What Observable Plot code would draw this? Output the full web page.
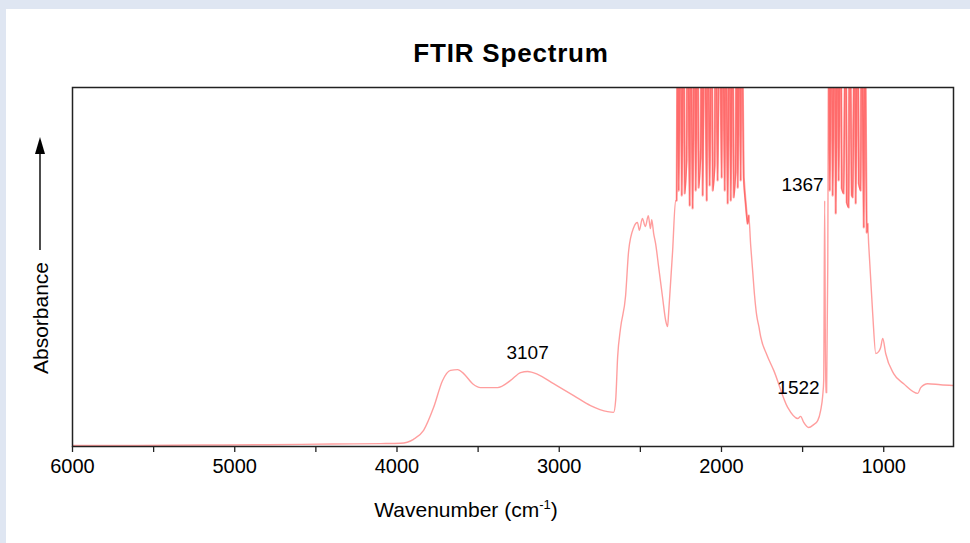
<!DOCTYPE html>
<html>
<head>
<meta charset="utf-8">
<script src="https://cdn.jsdelivr.net/npm/d3@7"></script>
<script src="https://cdn.jsdelivr.net/npm/@observablehq/plot@0.6"></script>
<style>
  html, body { margin: 0; padding: 0; }
  body { width: 970px; height: 543px; background: #dfe6f2; position: relative; overflow: hidden;
         font-family: "Liberation Sans", Arial, Helvetica, sans-serif; color: #000; }
  #panel { position: absolute; left: 6px; top: 9px; right: 0; bottom: 0; background: #fff; }
  #title { position: absolute; left: 311px; width: 400px; top: 40px; height: 26px; line-height: 26px;
           text-align: center; font-size: 26px; font-weight: bold; letter-spacing: 0.8px; }
  #chart { position: absolute; left: 0; top: 0; }
  #xlabel { position: absolute; left: 266px; width: 400px; top: 499px; line-height: 21px; font-size: 21px; text-align: center; }
  #xlabel sup { font-size: 13px; vertical-align: 8px; line-height: 0; }
  #ylabel { position: absolute; left: 40px; top: 318px; font-size: 21px; line-height: 21px; white-space: nowrap;
            transform: translate(-50%, -50%) rotate(-90deg); }
  #arrow { position: absolute; left: 30px; top: 130px; }
</style>
</head>
<body>
<div id="panel"></div>
<div id="title">FTIR Spectrum</div>
<div id="chart"></div>
<div id="xlabel">Wavenumber (cm<sup>-1</sup>)</div>
<div id="ylabel">Absorbance</div>
<svg id="arrow" width="20" height="125">
  <line x1="10" y1="120" x2="10" y2="20" stroke="#000" stroke-width="1.4"/>
  <polygon points="10,7 5,24 15,24" fill="#000"/>
</svg>
<script>
// Wavenumber (cm^-1)
const wavenumber = [
  6000, 5600, 5200, 4800, 4400, 4100, 3978, 3898, 3836, 3774, 3719, 3670, 3626, 3589, 3534, 3485,
  3380, 3300, 3238, 3195, 3133, 3035, 2911, 2807, 2702, 2665, 2652, 2640, 2622, 2591, 2572, 2541,
  2518, 2506, 2488, 2469, 2451, 2438, 2430, 2418, 2406, 2387, 2363, 2344, 2332, 2326, 2301, 2283,
  2276, 2270, 2264, 2252, 2245, 2233, 2227, 2215, 2209, 2196, 2190, 2178, 2165, 2159, 2147, 2141,
  2128, 2122, 2116, 2104, 2091, 2085, 2073, 2061, 2054, 2042, 2036, 2024, 2011, 1999, 1993, 1980,
  1974, 1962, 1950, 1943, 1931, 1925, 1913, 1906, 1900, 1888, 1882, 1876, 1863, 1851, 1839, 1832,
  1820, 1808, 1796, 1783, 1770, 1758, 1720, 1678, 1592, 1530, 1512, 1493, 1463, 1432, 1407, 1389,
  1376, 1370, 1364, 1358, 1352, 1345, 1339, 1333, 1321, 1315, 1302, 1296, 1284, 1278, 1265, 1259,
  1247, 1234, 1228, 1216, 1210, 1197, 1191, 1179, 1173, 1160, 1154, 1142, 1136, 1123, 1117, 1105,
  1099, 1093, 1068, 1049, 1030, 1019, 1006, 988, 939, 877, 790, 772, 729, 650, 570
];
// Absorbance (arbitrary units, 0 = bottom of frame, 1 = top of frame)
const absorbance = [
  0.003, 0.003, 0.004, 0.005, 0.007, 0.008, 0.009, 0.020, 0.045, 0.109, 0.184, 0.212, 0.214, 0.203, 0.175, 0.164,
  0.164, 0.184, 0.206, 0.209, 0.201, 0.175, 0.142, 0.114, 0.097, 0.095, 0.130, 0.250, 0.330, 0.420, 0.546, 0.610,
  0.624, 0.602, 0.635, 0.613, 0.643, 0.607, 0.632, 0.593, 0.565, 0.499, 0.415, 0.351, 0.334, 0.370, 0.546, 0.685,
  0.685, 1.300, 0.713, 1.300, 0.699, 1.300, 0.705, 0.797, 1.300, 0.671, 1.300, 0.663, 1.300, 0.713, 1.300, 0.721,
  0.825, 1.300, 0.699, 1.300, 0.685, 1.300, 0.727, 1.300, 0.713, 0.783, 1.300, 0.741, 1.300, 0.749, 1.300, 0.713,
  1.300, 0.677, 1.300, 0.685, 1.300, 0.694, 0.769, 1.300, 0.721, 1.300, 0.741, 1.300, 0.749, 0.677, 0.621, 0.643,
  0.560, 0.490, 0.420, 0.365, 0.335, 0.305, 0.255, 0.212, 0.109, 0.078, 0.084, 0.067, 0.053, 0.061, 0.072, 0.100,
  0.142, 0.184, 0.685, 0.150, 0.150, 0.500, 1.300, 0.713, 1.300, 0.699, 1.300, 0.649, 1.300, 0.741, 1.300, 0.720,
  0.705, 1.300, 0.680, 0.666, 1.300, 0.700, 0.694, 1.300, 0.677, 1.300, 0.733, 0.713, 1.300, 0.610, 1.300, 0.596,
  0.620, 0.565, 0.370, 0.259, 0.265, 0.276, 0.301, 0.259, 0.203, 0.175, 0.148, 0.164, 0.175, 0.172, 0.170
];
// Axis ticks
const xTicks = [6000, 5500, 5000, 4500, 4000, 3500, 3000, 2500, 2000, 1500, 1000];
const xTickLabels = ["6000", "", "5000", "", "4000", "", "3000", "", "2000", "", "1000"];
// Peak annotations
const peakLabels = ["3107", "1367", "1522"];
const peakWn = [3195, 1370, 1395];
const peakAbs = [0.262, 0.730, 0.162];
const peakAnchor = ["middle", "end", "end"];
// Saturated (noisy) bands
const noisyBands = [[2280, 1830], [1342, 1095]];

const spectrum = wavenumber.map((w, i) => ({w, a: absorbance[i]}));
const peaks = peakLabels.map((t, i) => ({t, w: peakWn[i], a: peakAbs[i], anchor: peakAnchor[i]}));
const noisy = noisyBands.map(([hi, lo]) => spectrum.filter(d => d.w <= hi && d.w >= lo));

const chart = Plot.plot({
  width: 970,
  height: 543,
  marginLeft: 72,
  marginRight: 17,
  marginTop: 87,
  marginBottom: 97,
  style: {background: "transparent", fontFamily: "'Liberation Sans', Arial, sans-serif", color: "#000"},
  x: {domain: [6000, 570]},
  y: {domain: [0, 1], axis: null},
  marks: [
    Plot.line(spectrum, {x: "w", y: "a", curve: "monotone-x", stroke: "#ff0000", strokeOpacity: 0.38, strokeWidth: 1.4, clip: true}),
    ...noisy.map(band => Plot.line(band, {x: "w", y: "a", curve: "linear", stroke: "#ff0000", strokeOpacity: 0.32, strokeWidth: 2.2, clip: true})),
    Plot.text(peaks.filter(d => d.anchor === "middle"), {x: "w", y: "a", text: "t", textAnchor: "middle", fontSize: 19, fill: "#000"}),
    Plot.text(peaks.filter(d => d.anchor === "end"), {x: "w", y: "a", text: "t", textAnchor: "end", fontSize: 19, fill: "#000"}),
    Plot.frame({stroke: "#222", strokeWidth: 1.5}),
    Plot.axisX({ticks: xTicks, tickFormat: (d) => xTickLabels[xTicks.indexOf(d)], tickSize: 6, tickPadding: 6,
                fontSize: 20, label: null, stroke: "#222", strokeWidth: 1.3})
  ]
});
document.getElementById("chart").appendChild(chart);
</script>
</body>
</html>
